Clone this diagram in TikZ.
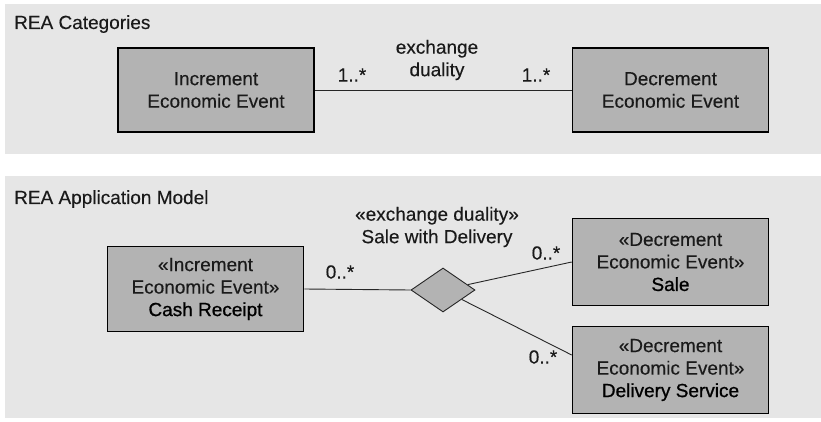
\documentclass[tikz,border=0pt]{standalone}
\usepackage{fontspec}
\setmainfont[FakeBold=0.25]{Liberation Sans}
\newfontfamily\namefont[FakeBold=0.9]{Liberation Sans}
\usetikzlibrary{shapes.geometric,calc}
\definecolor{panelgray}{HTML}{E6E6E6}
\definecolor{boxgray}{HTML}{B3B3B3}
\definecolor{inkgray}{HTML}{1A1A1A}
\tikzset{
  panel/.style={fill=panelgray, draw=none},
  classbox/.style={rectangle, draw=black, line width=1.6pt, fill=boxgray,
    minimum width=196pt, inner sep=0pt, align=center, text=inkgray,
    font=\fontsize{19}{22.5}\selectfont},
  assoc/.style={draw=black!85, line width=0.9pt},
  plain/.style={text=inkgray, inner sep=0pt, align=center,
    font=\fontsize{19}{22.5}\selectfont},
  relation/.style={diamond, draw=black!85, line width=0.9pt, fill=boxgray,
    minimum width=64pt, minimum height=44pt, inner sep=0pt, aspect=1.45}
}
\begin{document}
\begin{tikzpicture}[x=1pt, y=-1pt]
  \useasboundingbox (0,0) rectangle (821,422);
  % two panels
  \path[panel] (5,4) rectangle (821,154);
  \path[panel] (5,176) rectangle (821,418);

  % --- REA Categories ---
  \node[plain, anchor=base west] (t1) at (14,29) {REA Categories};
  \node[classbox, minimum height=84pt] (inc) at (216,90) {Increment\\Economic Event};
  \node[classbox, minimum height=84pt] (dec) at (670.5,90) {Decrement\\Economic Event};
  \draw[assoc] (inc.east) -- (dec.west);
  \node[plain] (dual) at (437,60) {exchange\\duality};
  \node[plain] (m1) at (352,75) {1..*};
  \node[plain] (m2) at (536,75) {1..*};

  % --- REA Application Model ---
  \node[plain, anchor=base west] (t2) at (14,204) {REA Application Model};
  \node[classbox, minimum height=85pt] (cash) at (205.5,289)
    {«Increment\\Economic Event»\\{\namefont\color{black}Cash Receipt}};
  \node[classbox, minimum height=87pt] (sale) at (670.5,262)
    {«Decrement\\Economic Event»\\{\namefont\color{black}Sale}};
  \node[classbox, minimum height=87pt] (deliv) at (670.5,370)
    {«Decrement\\Economic Event»\\{\namefont\color{black}Delivery Service}};
  \node[relation] (dia) at (443,290) {};
  \coordinate (dtip) at ($(deliv.west)+(0,-15)$);
  \draw[assoc] (cash.east) -- (dia.west);
  \draw[assoc] (dia) -- (sale.west);
  \draw[assoc] (dia) -- (dtip);
  \node[plain] (rel) at (437,227) {«exchange duality»\\Sale with Delivery};
  \node[plain] (m3) at (340,272) {0..*};
  \node[plain] (m4) at (546,253) {0..*};
  \node[plain] (m5) at (543,357) {0..*};
\end{tikzpicture}
\end{document}
